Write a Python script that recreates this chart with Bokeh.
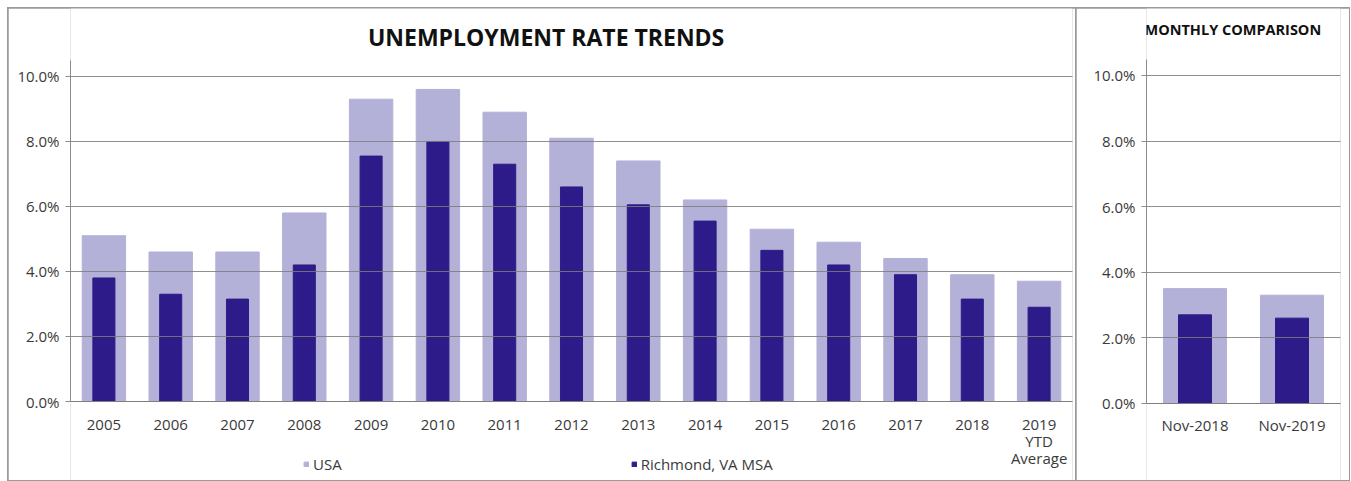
from bokeh.plotting import figure
from bokeh.models import (FactorRange, Range1d, PrintfTickFormatter, FixedTicker,
                          Legend, LegendItem, Label)
from bokeh.layouts import row
from bokeh.embed import file_html
from bokeh.resources import INLINE

# ---- data ----
years = ["2005", "2006", "2007", "2008", "2009", "2010", "2011", "2012",
         "2013", "2014", "2015", "2016", "2017", "2018", "2019\nYTD\nAverage"]
usa = [5.1, 4.6, 4.6, 5.8, 9.3, 9.6, 8.9, 8.1, 7.4, 6.2, 5.3, 4.9, 4.4, 3.9, 3.7]
richmond = [3.8, 3.3, 3.15, 4.2, 7.55, 8.0, 7.3, 6.6, 6.05, 5.55, 4.65, 4.2, 3.9, 3.15, 2.9]

months = ["Nov-2018", "Nov-2019"]
usa_month = [3.5, 3.3]
richmond_month = [2.7, 2.6]

y_ticks = [0, 2, 4, 6, 8, 10]

USA_COLOR = "#b4b1d8"
RIC_COLOR = "#2d1b89"
GRID = "#7d7d7d"
AXIS = "#8c8c8c"
TXT = "#3a3a3a"
FONT = "Open Sans"


def style(p):
    p.background_fill_color = "white"
    p.border_fill_color = "white"
    p.outline_line_color = None
    p.xgrid.grid_line_color = None
    p.ygrid.grid_line_color = GRID
    p.ygrid.grid_line_width = 1
    p.ygrid.level = "overlay"
    p.ygrid.grid_line_alpha = 0.85
    p.yaxis.ticker = FixedTicker(ticks=y_ticks)
    p.yaxis.formatter = PrintfTickFormatter(format="%.1f%%")
    p.yaxis.bounds = (0, 10.5)
    p.xaxis.fixed_location = 0
    for ax in (p.xaxis[0], p.yaxis[0]):
        ax.axis_line_color = AXIS
        ax.major_label_text_font = FONT
        ax.major_label_text_font_size = "15px"
        ax.major_label_text_color = TXT
        ax.minor_tick_line_color = None
    p.xaxis.major_tick_line_color = None
    p.xaxis.major_label_standoff = 6
    p.xaxis.major_label_text_line_height = 0.85
    p.yaxis.major_tick_line_color = AXIS
    p.yaxis.major_tick_in = 0
    p.yaxis.major_tick_out = 5
    p.yaxis.major_label_standoff = 6


# ---- left chart ----
p1 = figure(width=1067, height=472, x_range=FactorRange(factors=years),
            y_range=Range1d(-2.43, 12.09), output_backend="svg", toolbar_location=None,
            title=None, min_border_left=62, min_border_right=3,
            min_border_top=0, min_border_bottom=0)
style(p1)
r_usa = p1.vbar(x=years, top=usa, width=0.65, color=USA_COLOR)
r_ric = p1.vbar(x=years, top=richmond, width=0.33, color=RIC_COLOR)

p1.add_layout(Label(x=7.12, y=11.2, text="UNEMPLOYMENT RATE TRENDS", text_align="center",
                    text_baseline="middle", text_font=FONT, text_font_size="23px",
                    text_font_style="bold", text_color="#111111"))

legend = Legend(items=[LegendItem(label="USA", renderers=[r_usa]),
                       LegendItem(label="Richmond, VA MSA", renderers=[r_ric])],
                orientation="horizontal", location=(233, 6), spacing=289,
                glyph_width=6, glyph_height=6, label_standoff=4, padding=0, margin=0,
                border_line_color=None, background_fill_alpha=0,
                label_text_font=FONT, label_text_font_size="15px", label_text_color=TXT)
p1.add_layout(legend, "center")

# ---- right chart ----
p2 = figure(width=273, height=472, x_range=FactorRange(factors=months),
            y_range=Range1d(-2.35, 12.04), output_backend="svg", toolbar_location=None,
            title=None, min_border_left=70, min_border_right=9,
            min_border_top=0, min_border_bottom=0)
style(p2)
p2.vbar(x=months, top=usa_month, width=0.65, color=USA_COLOR)
p2.vbar(x=months, top=richmond_month, width=0.34, color=RIC_COLOR)
p2.add_layout(Label(x=0.89, y=11.4, text="MONTHLY COMPARISON", text_align="center",
                    text_baseline="middle", text_font=FONT, text_font_size="14.5px",
                    text_font_style="bold", text_color="#111111"))

layout = row(p1, p2, spacing=1,
             styles={"background-color": "#9a9a9a", "padding": "1px",
                     "margin-left": "7px", "margin-top": "7px"})

open("out.html", "w").write(file_html(layout, INLINE))
